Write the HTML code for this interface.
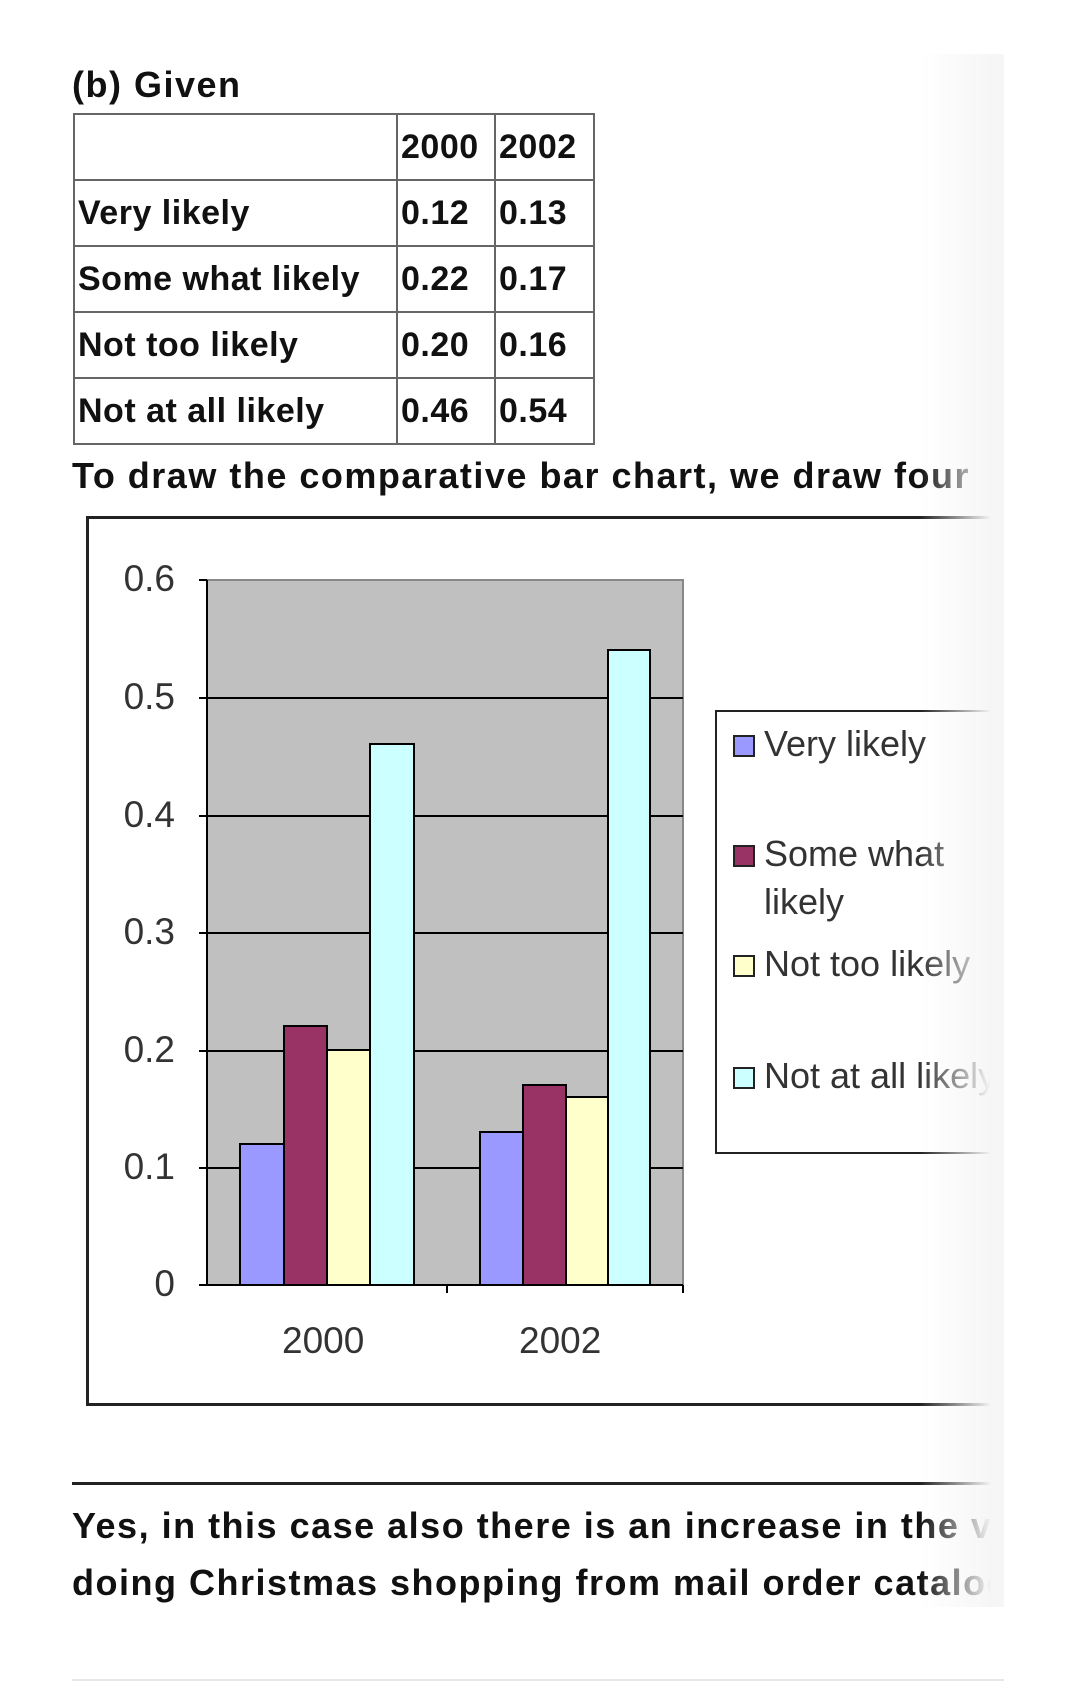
<!DOCTYPE html>
<html><head><meta charset="utf-8"><style>
body{margin:0;width:1080px;height:1698px;background:#fff;position:relative;overflow:hidden;font-family:"Liberation Sans",sans-serif;color:#111}
.t{position:absolute;white-space:nowrap;font-size:36px;font-weight:bold;letter-spacing:1.5px}
table{position:absolute;left:73px;top:113px;border-collapse:collapse;font-size:34px;font-weight:bold;letter-spacing:0.5px}
td{border:2px solid #666;height:64px;padding:0 3px;white-space:nowrap;overflow:hidden}
.ax{position:absolute;font-size:37px;color:#333;text-align:right}
.lg{position:absolute;font-size:36px;color:#333;left:764px;line-height:48px}
.sq{position:absolute;left:733px;width:18px;height:18px;border:2px solid #222}
</style></head><body>
<div class="t" style="left:72px;top:64px">(b) Given</div>
<table>
<tr><td style="width:315px"></td><td style="width:90px">2000</td><td style="width:91px">2002</td></tr>
<tr><td>Very likely</td><td>0.12</td><td>0.13</td></tr>
<tr><td>Some what likely</td><td>0.22</td><td>0.17</td></tr>
<tr><td>Not too likely</td><td>0.20</td><td>0.16</td></tr>
<tr><td>Not at all likely</td><td>0.46</td><td>0.54</td></tr>
</table>
<div class="t" style="left:72px;top:455px">To draw the comparative bar chart, we draw four</div>
<div style="position:absolute;left:86px;top:516px;width:1000px;height:890px;border:3px solid #222;box-sizing:border-box"></div>
<svg style="position:absolute;left:0;top:0" width="1080" height="1698">
<rect x="207" y="580" width="476" height="705" fill="#c0c0c0" stroke="#888" stroke-width="2"/>
<g stroke="#000" stroke-width="2">
<line x1="207" y1="698" x2="683" y2="698"/><line x1="207" y1="816" x2="683" y2="816"/>
<line x1="207" y1="933" x2="683" y2="933"/><line x1="207" y1="1051" x2="683" y2="1051"/>
<line x1="207" y1="1168" x2="683" y2="1168"/>
<line x1="207" y1="580" x2="207" y2="1285"/><line x1="207" y1="1285" x2="683" y2="1285"/>
<line x1="199" y1="580" x2="207" y2="580"/><line x1="199" y1="698" x2="207" y2="698"/><line x1="199" y1="816" x2="207" y2="816"/><line x1="199" y1="933" x2="207" y2="933"/><line x1="199" y1="1051" x2="207" y2="1051"/><line x1="199" y1="1168" x2="207" y2="1168"/><line x1="199" y1="1285" x2="207" y2="1285"/>
<line x1="447" y1="1285" x2="447" y2="1293"/><line x1="683" y1="1285" x2="683" y2="1293"/>
</g>
<g stroke="#000" stroke-width="2">
<rect x="240" y="1144" width="44" height="141" fill="#9999ff"/>
<rect x="284" y="1026" width="43" height="259" fill="#993366"/>
<rect x="327" y="1050" width="43" height="235" fill="#ffffcc"/>
<rect x="370" y="744" width="44" height="541" fill="#ccffff"/>
<rect x="480" y="1132" width="43" height="153" fill="#9999ff"/>
<rect x="523" y="1085" width="43" height="200" fill="#993366"/>
<rect x="566" y="1097" width="42" height="188" fill="#ffffcc"/>
<rect x="608" y="650" width="42" height="635" fill="#ccffff"/>
</g>
<rect x="716" y="711" width="400" height="442" fill="#fff" stroke="#222" stroke-width="2"/>
</svg>
<div class="ax" style="left:110px;top:558px;width:65px">0.6</div>
<div class="ax" style="left:110px;top:676px;width:65px">0.5</div>
<div class="ax" style="left:110px;top:794px;width:65px">0.4</div>
<div class="ax" style="left:110px;top:911px;width:65px">0.3</div>
<div class="ax" style="left:110px;top:1029px;width:65px">0.2</div>
<div class="ax" style="left:110px;top:1146px;width:65px">0.1</div>
<div class="ax" style="left:110px;top:1263px;width:65px">0</div>
<div class="ax" style="left:282px;top:1320px">2000</div>
<div class="ax" style="left:519px;top:1320px">2002</div>
<div class="sq" style="top:735px;background:#9999ff"></div>
<div class="sq" style="top:845px;background:#993366"></div>
<div class="sq" style="top:955px;background:#ffffcc"></div>
<div class="sq" style="top:1067px;background:#ccffff"></div>
<div class="lg" style="top:720px">Very likely</div>
<div class="lg" style="top:830px">Some what<br>likely</div>
<div class="lg" style="top:940px">Not too likely</div>
<div class="lg" style="top:1052px">Not at all likely</div>
<div style="position:absolute;left:72px;top:1482px;width:930px;border-top:3px solid #222"></div>
<div class="t" style="left:72px;top:1505px">Yes, in this case also there is an increase in the very</div>
<div class="t" style="left:72px;top:1562px">doing Christmas shopping from mail order catalogs</div>
<div style="position:absolute;left:920px;top:54px;width:84px;height:1553px;background:linear-gradient(to right,rgba(246,246,246,0),#f6f6f6 85%)"></div>
<div style="position:absolute;left:1004px;top:0;width:76px;height:1698px;background:#fff"></div>
<div style="position:absolute;left:72px;top:1679px;width:932px;border-top:2px solid #e6e6e6"></div>
</body></html>
